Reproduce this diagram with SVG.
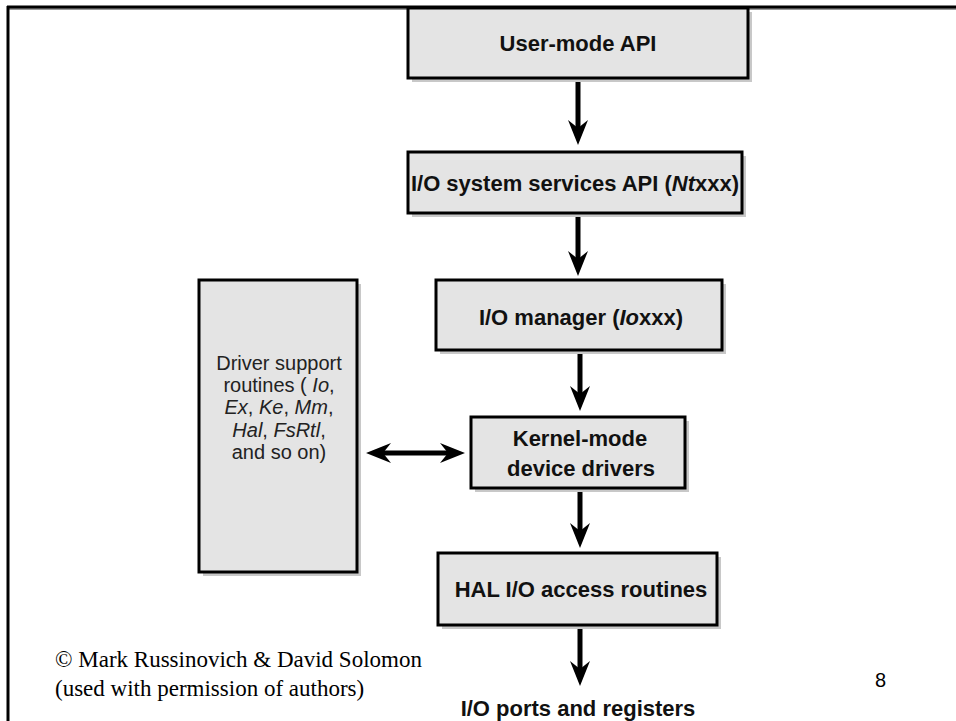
<svg xmlns="http://www.w3.org/2000/svg" width="956" height="721" viewBox="0 0 956 721">
  <style>
    .box { fill: #e4e4e4; stroke: #000; stroke-width: 3; }
    .shadow { fill: #c8c8c8; }
    .lbl { font-family: "Liberation Sans", Arial, sans-serif; font-weight: bold; font-size: 22px; fill: #111; text-anchor: middle; }
    .side { font-family: "Liberation Sans", Arial, sans-serif; font-size: 20px; fill: #222; text-anchor: middle; }
    .credit { font-family: "Liberation Serif", "Times New Roman", serif; font-size: 23px; fill: #000; }
    .wire { stroke: #000; stroke-width: 5; fill: none; }
  </style>
  <defs>
    <!-- swallowtail head; tip sits 15px beyond the line end -->
    <marker id="head" markerUnits="userSpaceOnUse" viewBox="-42 -12 44 24" refX="-15" refY="0" markerWidth="44" markerHeight="24" orient="auto-start-reverse">
      <path d="M0,0 L-25,-10 L-17,0 L-25,10 Z" fill="#000"/>
    </marker>
  </defs>

  <rect width="956" height="721" fill="#fff"/>

  <!-- page frame -->
  <g id="frame">
    <line x1="8" y1="9" x2="956" y2="9" stroke="#999" stroke-width="2"/>
    <line x1="7" y1="7" x2="956" y2="7" stroke="#000" stroke-width="3"/>
    <line x1="8" y1="6" x2="8" y2="721" stroke="#000" stroke-width="3"/>
  </g>

  <!-- connectors -->
  <g id="connectors">
    <line class="wire" x1="578" y1="78" x2="578" y2="130" marker-end="url(#head)"/>
    <line class="wire" x1="578" y1="213" x2="578" y2="261" marker-end="url(#head)"/>
    <line class="wire" x1="580" y1="350" x2="580" y2="396" marker-end="url(#head)"/>
    <line class="wire" x1="580" y1="488" x2="580" y2="533" marker-end="url(#head)"/>
    <line class="wire" x1="580" y1="625" x2="580" y2="671" marker-end="url(#head)"/>
    <line class="wire" x1="381" y1="453" x2="450" y2="453" stroke-width="4" marker-start="url(#head)" marker-end="url(#head)"/>
  </g>

  <g id="user-mode-api">
    <rect class="shadow" x="412" y="12" width="340" height="70"/>
    <rect class="box" x="408" y="8" width="340" height="70"/>
    <text class="lbl" x="578" y="51" font-size="24">User-mode API</text>
  </g>

  <g id="system-services">
    <rect class="shadow" x="412" y="156" width="334" height="61"/>
    <rect class="box" x="408" y="152" width="334" height="61"/>
    <text class="lbl" x="575" y="191">I/O system services API (<tspan font-style="italic">Nt</tspan>xxx)</text>
  </g>

  <g id="io-manager">
    <rect class="shadow" x="440" y="284" width="286" height="70"/>
    <rect class="box" x="436" y="280" width="286" height="70"/>
    <text class="lbl" x="581" y="325">I/O manager (<tspan font-style="italic">Io</tspan>xxx)</text>
  </g>

  <g id="kernel-drivers">
    <rect class="shadow" x="475" y="421" width="214" height="71"/>
    <rect class="box" x="471" y="417" width="214" height="71"/>
    <text class="lbl" x="580" y="446" font-size="21">Kernel-mode</text>
    <text class="lbl" x="581" y="476" font-size="21">device drivers</text>
  </g>

  <g id="hal-routines">
    <rect class="shadow" x="442" y="557" width="279" height="72"/>
    <rect class="box" x="438" y="553" width="279" height="72"/>
    <text class="lbl" x="581" y="597">HAL I/O access routines</text>
  </g>

  <g id="driver-support">
    <rect class="shadow" x="203" y="284" width="158" height="292"/>
    <rect class="box" x="199" y="280" width="158" height="292"/>
    <text class="side" x="279" y="370">Driver support</text>
    <text class="side" x="279" y="392">routines ( <tspan font-style="italic">Io</tspan>,</text>
    <text class="side" x="279" y="414"><tspan font-style="italic">Ex</tspan>, <tspan font-style="italic">Ke</tspan>, <tspan font-style="italic">Mm</tspan>,</text>
    <text class="side" x="279" y="437"><tspan font-style="italic">Hal</tspan>, <tspan font-style="italic">FsRtl</tspan>,</text>
    <text class="side" x="279" y="459">and so on)</text>
  </g>

  <g id="io-ports">
    <text class="lbl" x="578" y="716">I/O ports and registers</text>
  </g>

  <g id="credits">
    <text class="credit" x="55" y="667">© Mark Russinovich &amp; David Solomon</text>
    <text class="credit" x="55" y="696">(used with permission of authors)</text>
    <text x="875" y="687" font-family="'Liberation Sans', Arial, sans-serif" font-size="20" fill="#000">8</text>
  </g>
</svg>
